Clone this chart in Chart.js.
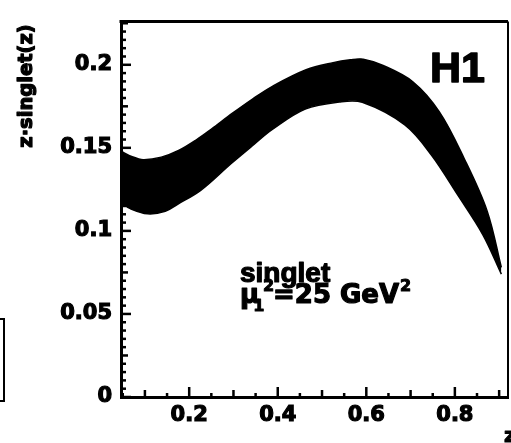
<!DOCTYPE html>
<html>
<head>
<meta charset="utf-8">
<script src="https://cdn.jsdelivr.net/npm/chart.js@4.4.1/dist/chart.umd.min.js"></script>
<style>
  html, body { margin: 0; padding: 0; background: #fff; }
  #wrap { width: 511px; height: 443px; position: relative; }
</style>
</head>
<body>
<div id="wrap"><canvas id="c" width="511" height="443"></canvas></div>
<script>
// ---- data ----
const upperZ   = [0.046, 0.070, 0.096, 0.137, 0.176, 0.217, 0.251, 0.297, 0.343, 0.389, 0.464, 0.525, 0.564, 0.593, 0.638, 0.705, 0.765, 0.821, 0.873, 0.905];
const upperVal = [0.148, 0.1448, 0.1429, 0.1444, 0.1484, 0.155, 0.1615, 0.1707, 0.1794, 0.1872, 0.197, 0.2013, 0.203, 0.2034, 0.1996, 0.1898, 0.1717, 0.1436, 0.1119, 0.078];
const lowerZ   = [0.046, 0.067, 0.106, 0.146, 0.173, 0.226, 0.295, 0.347, 0.387, 0.462, 0.539, 0.591, 0.687, 0.747, 0.806, 0.863, 0.905];
const lowerVal = [0.117, 0.1134, 0.1103, 0.1118, 0.1159, 0.1244, 0.1406, 0.1522, 0.1609, 0.1733, 0.1776, 0.1774, 0.1638, 0.1457, 0.1218, 0.0978, 0.074];

const xTickLabels = [0.2, 0.4, 0.6, 0.8];
const yTickLabels = [0, 0.05, 0.1, 0.15, 0.2];
const yTitle = 'z\u00B7singlet(z)';
const xTitle = 'z';
const panelLabel = 'H1';
const noteLine1 = 'singlet';
const noteScaleVal = '=25 GeV';

const X_MIN = 0.046, X_MAX = 0.92, Y_MIN = 0, Y_MAX = 0.226;

function near(v, step) { return Math.abs(v / step - Math.round(v / step)) < 1e-6; }

const toPts = (xs, ys) => xs.map((x, i) => ({ x: x, y: ys[i] }));

function boldText(ctx, s, x, y, sw) {
  ctx.lineWidth = sw;
  ctx.lineJoin = 'round';
  ctx.strokeText(s, x, y);
  ctx.fillText(s, x, y);
}

const tickPlugin = {
  id: 'frameTicks',
  afterDraw(chart) {
    const ctx = chart.ctx, a = chart.chartArea;
    const xs = chart.scales.x, ys = chart.scales.y;
    ctx.save();
    ctx.strokeStyle = '#000';
    ctx.lineCap = 'butt';
    ctx.lineWidth = 2.5;
    xs.ticks.forEach(t => {
      const v = t.value;
      let len = 4;
      if (near(v, 0.2)) len = 10; else if (near(v, 0.1)) len = 7;
      const p = xs.getPixelForValue(v);
      ctx.beginPath(); ctx.moveTo(p, a.bottom); ctx.lineTo(p, a.bottom - len); ctx.stroke();
    });
    ys.ticks.forEach(t => {
      const v = t.value;
      let len = 5;
      if (near(v, 0.05)) len = 10; else if (near(v, 0.025)) len = 7;
      const p = ys.getPixelForValue(v);
      ctx.beginPath(); ctx.moveTo(a.left, p); ctx.lineTo(a.left + len, p); ctx.stroke();
    });
    ctx.lineWidth = 3;
    ctx.beginPath(); ctx.moveTo(a.left - 1.5, a.top); ctx.lineTo(a.right, a.top); ctx.stroke();
    ctx.lineWidth = 2;
    ctx.beginPath(); ctx.moveTo(a.right, a.top); ctx.lineTo(a.right, a.bottom); ctx.stroke();

    // fragment of the neighbouring panel's box
    ctx.lineWidth = 2;
    ctx.strokeRect(-10, 319, 14, 82);

    ctx.fillStyle = '#000';
    ctx.strokeStyle = '#000';
    ctx.save();
    ctx.translate(27, 86);
    ctx.rotate(-Math.PI / 2);
    ctx.font = 'bold 19.5px "DejaVu Sans"';
    ctx.textAlign = 'center';
    ctx.textBaseline = 'middle';
    boldText(ctx, yTitle, 0, 0, 1.2);
    ctx.restore();

    ctx.textAlign = 'left';
    ctx.textBaseline = 'alphabetic';
    ctx.font = 'bold 20px "DejaVu Sans"';
    boldText(ctx, xTitle, 504, 442, 1);

    ctx.font = 'bold 43px "Liberation Sans"';
    boldText(ctx, panelLabel, 430, 82, 1.5);

    ctx.font = 'bold 28px "Liberation Sans"';
    boldText(ctx, noteLine1, 240, 282, 1.2);
    ctx.font = 'bold 26px "DejaVu Sans"';
    boldText(ctx, '\u03BC', 240, 303, 1.2);
    const muW = ctx.measureText('\u03BC').width;
    ctx.font = 'bold 16px "DejaVu Sans"';
    boldText(ctx, '1', 240 + muW - 6, 311, 1);
    boldText(ctx, '2', 263, 291, 1);
    ctx.font = 'bold 26px "DejaVu Sans"';
    boldText(ctx, noteScaleVal, 273, 303, 1.2);
    const w = ctx.measureText(noteScaleVal).width;
    ctx.font = 'bold 16px "DejaVu Sans"';
    boldText(ctx, '2', 273 + w + 1, 291, 1);
    ctx.restore();
  }
};

new Chart(document.getElementById('c'), {
  type: 'line',
  data: {
    datasets: [
      {
        label: 'upper',
        data: toPts(upperZ, upperVal),
        borderColor: '#000',
        backgroundColor: '#000',
        borderWidth: 1.5,
        pointRadius: 0,
        tension: 0.35,
        fill: '+1'
      },
      {
        label: 'lower',
        data: toPts(lowerZ, lowerVal),
        borderColor: '#000',
        backgroundColor: '#000',
        borderWidth: 1.5,
        pointRadius: 0,
        tension: 0.35,
        fill: false
      }
    ]
  },
  options: {
    responsive: false,
    animation: false,
    devicePixelRatio: 1,
    layout: { padding: { top: 15, right: 3, left: 0, bottom: 0 } },
    plugins: { legend: { display: false }, tooltip: { enabled: false } },
    scales: {
      x: {
        type: 'linear',
        min: X_MIN, max: X_MAX,
        grid: { display: false, drawTicks: false },
        border: { display: true, color: '#000', width: 3 },
        afterBuildTicks(scale) {
          const t = [];
          for (let k = 1; k * 0.05 <= X_MAX + 1e-9; k++) t.push({ value: +(k * 0.05).toFixed(2) });
          scale.ticks = t;
        },
        afterFit(scale) { scale.height = 46; },
        ticks: {
          autoSkip: false, maxRotation: 0, padding: 6, color: '#000',
          textStrokeColor: '#000', textStrokeWidth: 1.2,
          font: { family: 'DejaVu Sans', size: 21, weight: 'bold' },
          callback: (v) => xTickLabels.some(l => Math.abs(l - v) < 1e-6) ? String(v) : ''
        }
      },
      y: {
        type: 'linear',
        min: Y_MIN, max: Y_MAX,
        grid: { display: false, drawTicks: false },
        border: { display: true, color: '#000', width: 3 },
        afterBuildTicks(scale) {
          const t = [];
          for (let k = 0; k * 0.005 <= Y_MAX + 1e-9; k++) t.push({ value: +(k * 0.005).toFixed(3) });
          scale.ticks = t;
        },
        afterFit(scale) { scale.width = 121; },
        ticks: {
          autoSkip: false, padding: 9, color: '#000',
          textStrokeColor: '#000', textStrokeWidth: 1.2,
          font: { family: 'DejaVu Sans', size: 21, weight: 'bold' },
          callback: (v) => yTickLabels.some(l => Math.abs(l - v) < 1e-6) ? String(v) : ''
        }
      }
    }
  },
  plugins: [tickPlugin]
});
</script>
</body>
</html>
